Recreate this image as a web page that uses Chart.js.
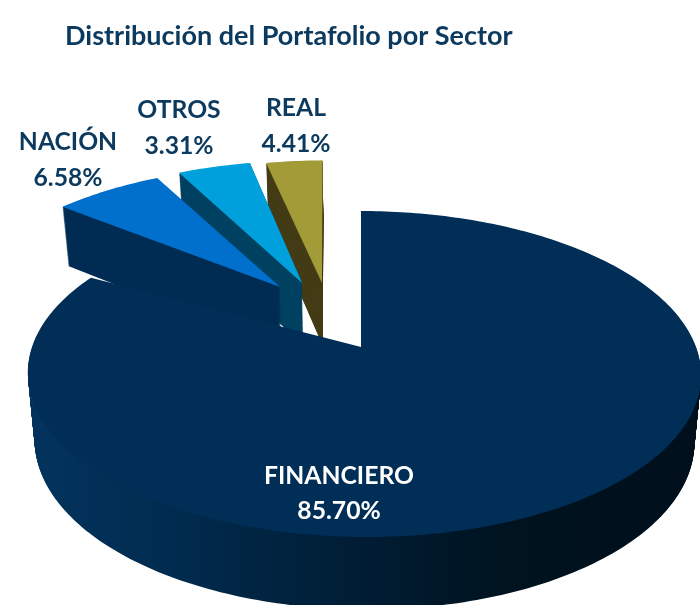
<!DOCTYPE html>
<html><head><meta charset="utf-8">
<style>html,body{margin:0;padding:0;background:#fff}#w{width:700px;height:605px}</style>
<script src="https://cdn.jsdelivr.net/npm/chart.js@4/dist/chart.umd.js"></script>
</head><body><div id="w"><canvas id="c"></canvas></div>
<script>
const categories = ['FINANCIERO','NACIÓN','OTROS','REAL'];
const values = [85.70, 6.58, 3.31, 4.41];
const topColors = ['#012E57','#0070CC','#00A0DC','#A39A38'];
const wallColors = ['','#012D54','#004060','#433C16'];
// Styling of the pictured 3D view (slice displacement and edge nudges)
const explodeU = [0, -0.26, -0.19, -0.126];
const explodeV = [0, 0.404, 0.433, 0.433];
const startNudgeDeg = [0, 0, 0, 3.1];
const endNudgeDeg = [-10.4, -0.8, 3.3, -1];
const radiusScale = [1, 1.015, 1.03, 1.03];
const rimSkew = [3, 0, 0, 0];
const labelPos = [[339,476,511],[68,142,178],[179,110,146],[296,108,144]];
const labelColors = ['#FFFFFF','#0B3A5E','#0B3A5E','#0B3A5E'];
const titleText = 'Distribución del Portafolio por Sector';
const view = {K:332, H:158.5, p:0.1656, depth:66, depthTaper:0.1, shrink:0.02};

const {PieController, ArcElement} = Chart;
class Arc3D extends ArcElement {
  static id = 'arc3d';
  static defaults = {...ArcElement.defaults, explodeU:0, explodeV:0, startNudgeDeg:0, endNudgeDeg:0, radiusScale:1, rimSkew:0, wallColor:''};
  static defaultRoutes = ArcElement.defaultRoutes;
  static descriptors = ArcElement.descriptors;
  draw(ctx){
    const o = this.options, cx = this.x, cy = this.y;
    const ou = o.explodeU, ov = o.explodeV, rs = o.radiusScale;
    const a0 = this.startAngle + o.startNudgeDeg*Math.PI/180;
    const a1 = this.endAngle + o.endNudgeDeg*Math.PI/180;
    const proj = (u,v,l,rim)=>{
      const w = 1+view.p*v;
      const s = 1-view.shrink*l;
      return [cx+view.K*u/w*s + rim*o.rimSkew*(1-v),
              cy-view.H*v/w+view.depth*(1-view.depthTaper*v)*l];
    };
    const trace = l=>{
      ctx.beginPath();
      let q = proj(ou,ov,l,0); ctx.moveTo(q[0],q[1]);
      const n = Math.max(4,Math.ceil((a1-a0)*180/Math.PI));
      for(let i=0;i<=n;i++){
        const a = a0+(a1-a0)*i/n;
        q = proj(ou+rs*Math.cos(a),ov-rs*Math.sin(a),l,1); ctx.lineTo(q[0],q[1]);
      }
      ctx.closePath();
    };
    let wall = o.wallColor;
    if(!wall){
      wall = ctx.createLinearGradient(27,0,700,0);
      wall.addColorStop(0,'#03335E'); wall.addColorStop(0.2,'#012C50');
      wall.addColorStop(0.5,'#001C33'); wall.addColorStop(0.72,'#00131F');
      wall.addColorStop(1,'#000F1B');
    }
    ctx.save();
    ctx.fillStyle = wall;
    const steps = 80;
    for(let d=steps;d>0;d--){ trace(d/steps); ctx.fill(); }
    ctx.fillStyle = o.backgroundColor;
    trace(0); ctx.fill();
    ctx.restore();
  }
}
class Pie3D extends PieController {
  static id = 'pie3d';
  static defaults = {...PieController.defaults, dataElementType:'arc3d'};
  static overrides = PieController.overrides;
  draw(){
    const ctx = this.chart.ctx, els = this._cachedMeta.data;
    for(let i=els.length-1;i>=0;i--) els[i].draw(ctx);
  }
}
Chart.register(Arc3D, Pie3D);

const labelPlugin = {
  id:'sliceLabels',
  afterDatasetsDraw(chart){
    const ctx = chart.ctx;
    ctx.save();
    ctx.font = 'bold 24.7px Lato';
    ctx.textAlign='center'; ctx.textBaseline='middle';
    categories.forEach((c,i)=>{
      const p = labelPos[i];
      ctx.fillStyle = labelColors[i];
      ctx.fillText(c,p[0],p[1]);
      ctx.fillText(values[i].toFixed(2)+'%',p[0],p[2]);
    });
    ctx.restore();
  }
};

new Chart(document.getElementById('c'),{
  type:'pie3d',
  data:{labels:categories,datasets:[{
    data:values,
    backgroundColor:topColors,
    borderWidth:0,
    explodeU:(c)=>explodeU[c.dataIndex],
    explodeV:(c)=>explodeV[c.dataIndex],
    startNudgeDeg:(c)=>startNudgeDeg[c.dataIndex],
    endNudgeDeg:(c)=>endNudgeDeg[c.dataIndex],
    radiusScale:(c)=>radiusScale[c.dataIndex],
    rimSkew:(c)=>rimSkew[c.dataIndex],
    wallColor:(c)=>wallColors[c.dataIndex]
  }]},
  options:{
    responsive:true,maintainAspectRatio:false,animation:false,
    layout:{padding:{left:65,right:43,top:0,bottom:0}},
    plugins:{
      legend:{display:false},tooltip:{enabled:false},
      title:{display:true,text:titleText,align:'start',color:'#0B3A5E',
        font:{family:'Lato',size:27,weight:'bold'},padding:{top:20,bottom:36.6}}
    }
  },
  plugins:[labelPlugin]
});
</script></body></html>
